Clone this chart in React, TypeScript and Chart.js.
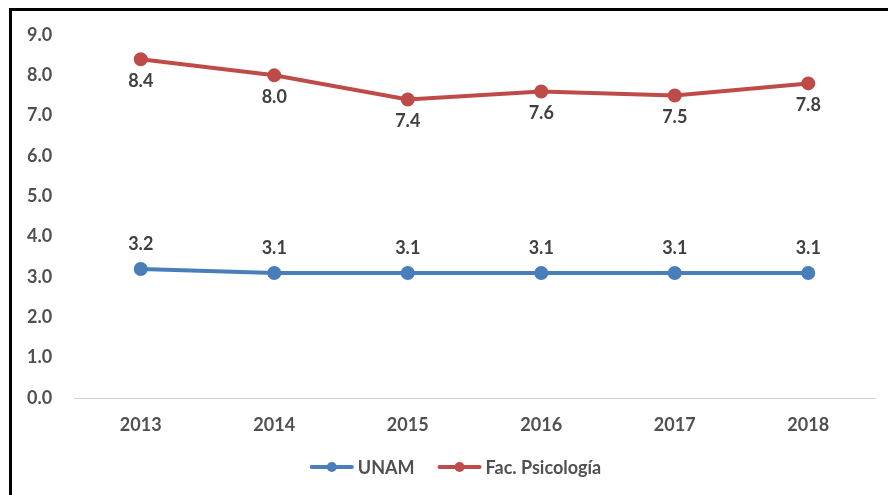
import React, { useEffect, useRef } from "react";
import { Chart, registerables } from "chart.js";

Chart.register(...registerables);

const years = ["2013", "2014", "2015", "2016", "2017", "2018"];
const unam = [3.2, 3.1, 3.1, 3.1, 3.1, 3.1];
const psicologia = [8.4, 8.0, 7.4, 7.6, 7.5, 7.8];
const seriesNames = ["UNAM", "Fac. Psicología"];
const seriesColors = ["#4A7EBB", "#BE4B48"];

const FONT = "Lato, 'Open Sans', sans-serif";
const TEXT = "#505050";
const FS = 18;

const labelPlugin = {
  id: "valueLabels",
  afterDatasetsDraw(chart: any) {
    const ctx = chart.ctx;
    ctx.save();
    ctx.font = `bold ${FS}px ${FONT}`;
    ctx.fillStyle = "#404040";
    ctx.textAlign = "center";
    ctx.textBaseline = "middle";
    chart.data.datasets.forEach((ds: any, i: number) => {
      const meta = chart.getDatasetMeta(i);
      meta.data.forEach((pt: any, j: number) => {
        const v = ds.data[j] as number;
        const dy = i === 0 ? -25 : 22;
        ctx.fillText(v.toFixed(1), pt.x, pt.y + dy);
      });
    });
    ctx.restore();
  },
};

const legendPlugin = {
  id: "customLegend",
  afterDraw(chart: any) {
    const ctx = chart.ctx;
    ctx.save();
    ctx.font = `bold ${FS}px ${FONT}`;
    const iconW = 42;
    const gap = 5;
    const itemGap = 24;
    const widths = seriesNames.map((n) => iconW + gap + ctx.measureText(n).width);
    const total = widths.reduce((a, b) => a + b, 0) + itemGap * (seriesNames.length - 1);
    let x = 444 - total / 2;
    const y = 456;
    seriesNames.forEach((n, i) => {
      const c = seriesColors[i];
      ctx.strokeStyle = c;
      ctx.lineWidth = 4;
      ctx.lineCap = "round";
      ctx.beginPath();
      ctx.moveTo(x + 1, y);
      ctx.lineTo(x + iconW - 1, y);
      ctx.stroke();
      ctx.fillStyle = c;
      ctx.beginPath();
      ctx.arc(x + iconW / 2, y, 5, 0, Math.PI * 2);
      ctx.fill();
      ctx.fillStyle = TEXT;
      ctx.textAlign = "left";
      ctx.textBaseline = "middle";
      ctx.fillText(n, x + iconW + gap, y + 1);
      x += widths[i] + itemGap;
    });
    ctx.restore();
  },
};

export default function App() {
  const ref = useRef<HTMLCanvasElement>(null);
  useEffect(() => {
    if (!ref.current) return;
    const chart = new Chart(ref.current, {
      type: "line",
      data: {
        labels: years,
        datasets: [
          {
            label: seriesNames[0],
            data: unam,
            borderColor: seriesColors[0],
            backgroundColor: seriesColors[0],
            borderWidth: 4,
            pointRadius: 5,
            pointHoverRadius: 5,
          },
          {
            label: seriesNames[1],
            data: psicologia,
            borderColor: seriesColors[1],
            backgroundColor: seriesColors[1],
            borderWidth: 4,
            pointRadius: 5,
            pointHoverRadius: 5,
          },
        ],
      },
      options: {
        animation: false,
        responsive: true,
        maintainAspectRatio: false,
        layout: { padding: { left: 15, right: 13, top: 24, bottom: 52 } },
        plugins: {
          tooltip: { enabled: false },
          legend: { display: false },
        },
        scales: {
          x: {
            offset: true,
            grid: { display: false, drawTicks: false },
            border: { display: true, color: "#D0D0D0", width: 1, dash: [2, 1] },
            ticks: {
              color: TEXT,
              padding: 16,
              maxRotation: 0,
              font: { family: FONT, size: FS, weight: "bold" },
            },
            afterFit: (axis: any) => {
              axis.height = 45;
            },
          },
          y: {
            min: 0,
            max: 9,
            grid: { display: false, drawTicks: false },
            border: { display: false },
            ticks: {
              stepSize: 1,
              color: TEXT,
              padding: 4,
              crossAlign: "far",
              font: { family: FONT, size: FS, weight: "bold" },
              callback: (v: any) => Number(v).toFixed(1),
            },
            afterFit: (axis: any) => {
              axis.width = 47;
            },
          },
        },
      },
      plugins: [labelPlugin, legendPlugin],
    });
    return () => chart.destroy();
  }, []);

  return (
    <div
      style={{
        position: "absolute",
        left: 9,
        top: 8,
        width: 879,
        height: 487,
        boxSizing: "border-box",
        borderTop: "3px solid #000",
        borderLeft: "3px solid #000",
        background: "#fff",
      }}
    >
      <div style={{ position: "relative", width: 876, height: 484 }}>
        <canvas ref={ref} />
      </div>
    </div>
  );
}
